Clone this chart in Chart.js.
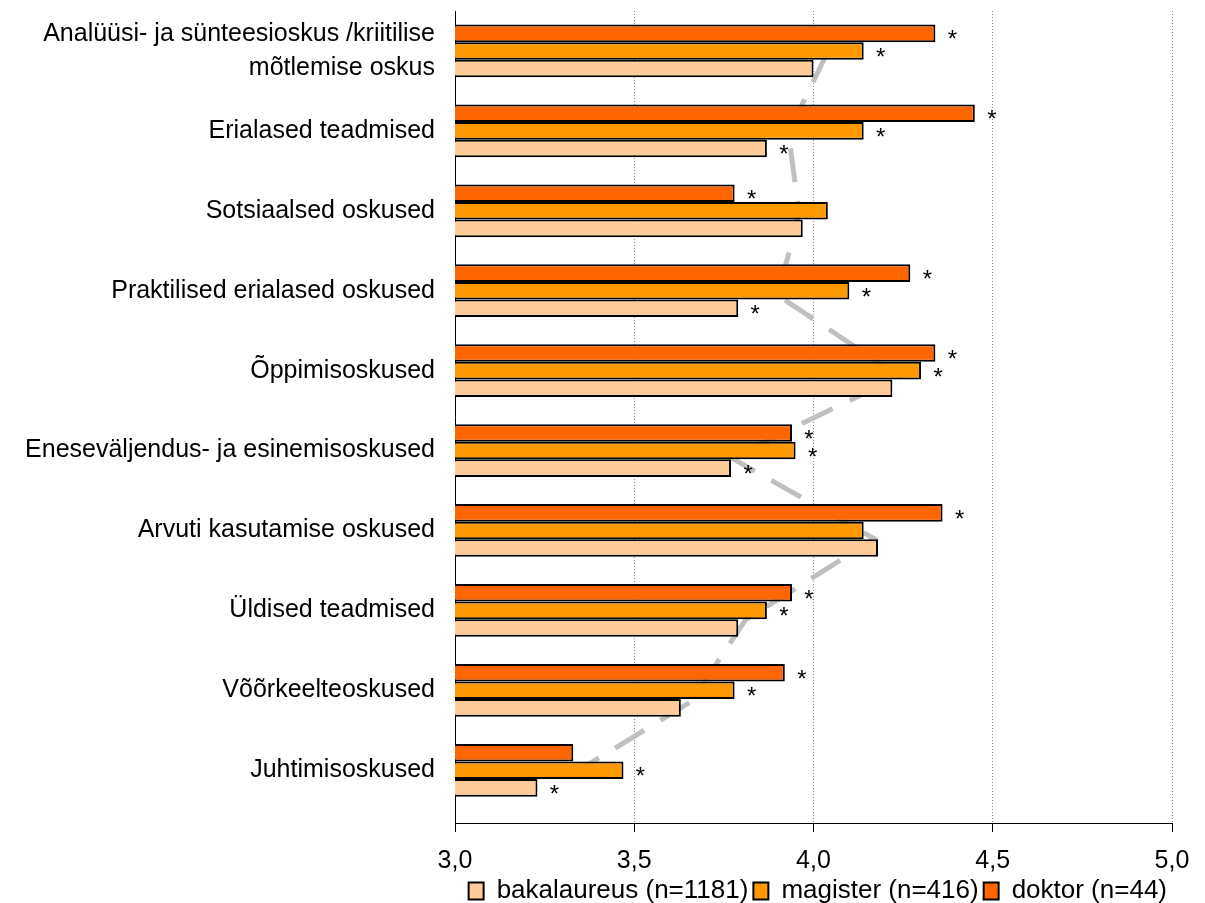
<!DOCTYPE html>
<html>
<head>
<meta charset="utf-8">
<script src="https://cdn.jsdelivr.net/npm/chart.js@4.4.1/dist/chart.umd.min.js"></script>
<style>
    html, body { margin: 0; padding: 0; background: #fff; }
    #wrap { width: 1205px; height: 903px; }
</style>
</head>
<body>
<div id="wrap"><canvas id="skillsChart" width="1205" height="903"></canvas></div>
<script>
const categories = [
    ['Analüüsi- ja sünteesioskus /kriitilise', 'mõtlemise oskus'],
    'Erialased teadmised',
    'Sotsiaalsed oskused',
    'Praktilised erialased oskused',
    'Õppimisoskused',
    'Eneseväljendus- ja esinemisoskused',
    'Arvuti kasutamise oskused',
    'Üldised teadmised',
    'Võõrkeelteoskused',
    'Juhtimisoskused'
];
const seriesLabels = ['bakalaureus (n=1181)', 'magister (n=416)', 'doktor (n=44)'];
const bakalaureus = [4.00, 3.87, 3.97, 3.79, 4.22, 3.77, 4.18, 3.79, 3.63, 3.23];
const magister = [4.14, 4.14, 4.04, 4.10, 4.30, 3.95, 4.14, 3.87, 3.78, 3.47];
const doktor = [4.34, 4.45, 3.78, 4.27, 4.34, 3.94, 4.36, 3.94, 3.92, 3.33];
const dashedLine = [4.04, 3.93, 3.96, 3.90, 4.24, 3.77, 4.17, 3.81, 3.66, 3.29];
// * marks beside the bars
const sigBakalaureus = [false, true, false, true, false, true, false, false, false, true];
const sigMagister = [true, true, false, true, true, true, false, true, true, true];
const sigDoktor = [true, true, true, true, true, true, true, true, true, false];
const xTicks = [3.0, 3.5, 4.0, 4.5, 5.0];

Chart.defaults.font.family = '"Liberation Sans", Arial, sans-serif';
Chart.defaults.color = '#000';

// the three bars of a category fill 66% of its height; each series sits on its own
// copy of the index axis, shifted by one bar
const groupShare = 0.66;
const barShare = groupShare / 3;
const indexRange = [-0.5, 9.66];

const toPoints = values => values.map((value, index) => ({ x: value, y: index }));
const categoryTicks = scale => {
    scale.ticks = categories.map((label, index) => ({ value: index }));
};

const asteriskPlugin = {
    id: 'asterisks',
    afterDatasetsDraw(chart) {
        const ctx = chart.ctx;
        ctx.save();
        ctx.font = '24px "Liberation Sans", Arial, sans-serif';
        ctx.fillStyle = '#000';
        ctx.textAlign = 'center';
        ctx.textBaseline = 'alphabetic';
        chart.data.datasets.forEach((dataset, datasetIndex) => {
            if (!dataset.significant) {
                return;
            }
            chart.getDatasetMeta(datasetIndex).data.forEach((bar, index) => {
                if (dataset.significant[index]) {
                    ctx.fillText('*', bar.x + 17, bar.y + 14);
                }
            });
        });
        ctx.restore();
    }
};

function barDataset(label, values, significant, color, axisId, order) {
    return {
        label,
        data: toPoints(values),
        significant,
        yAxisID: axisId,
        xAxisID: 'x',
        grouped: false,
        backgroundColor: color,
        borderColor: '#000',
        borderWidth: 2,
        borderSkipped: false,
        categoryPercentage: barShare,
        barPercentage: 1,
        order
    };
}

function shiftedIndexAxis(shift) {
    return {
        type: 'linear',
        display: false,
        reverse: true,
        offset: false,
        min: indexRange[0] + shift,
        max: indexRange[1] + shift,
        afterBuildTicks: categoryTicks
    };
}

new Chart(document.getElementById('skillsChart'), {
    type: 'bar',
    data: {
        labels: categories,
        datasets: [
            barDataset(seriesLabels[0], bakalaureus, sigBakalaureus, '#FFCC99', 'yBak', 3),
            barDataset(seriesLabels[1], magister, sigMagister, '#FF9900', 'y', 2),
            barDataset(seriesLabels[2], doktor, sigDoktor, '#FF6600', 'yDok', 1),
            {
                type: 'line',
                label: 'keskmine',
                data: dashedLine,
                indexAxis: 'y',
                xAxisID: 'x',
                yAxisID: 'y2',
                borderColor: '#C0C0C0',
                borderWidth: 5,
                borderDash: [34, 19],
                pointRadius: 0,
                fill: false,
                tension: 0,
                order: 4
            }
        ]
    },
    options: {
        indexAxis: 'y',
        responsive: false,
        animation: false,
        layout: { padding: { top: 11, right: 33, bottom: -11, left: 0 } },
        plugins: {
            legend: {
                position: 'bottom',
                align: 'end',
                reverse: true,
                labels: {
                    filter: item => item.datasetIndex < 3,
                    font: { size: 26 },
                    color: '#000',
                    boxWidth: 15,
                    boxHeight: 17,
                    padding: 5
                }
            },
            tooltip: { enabled: false }
        },
        scales: {
            x: {
                type: 'linear',
                position: 'bottom',
                min: xTicks[0],
                max: xTicks[xTicks.length - 1],
                afterBuildTicks: scale => {
                    scale.ticks = xTicks.map(value => ({ value }));
                },
                ticks: {
                    callback: value => value.toFixed(1).replace('.', ','),
                    font: { size: 25, lineHeight: 0.8 },
                    color: '#000',
                    padding: 2
                },
                grid: {
                    color: '#8c8c8c',
                    tickColor: '#000',
                    tickLength: 26,
                    tickBorderDash: [8, 40],
                    lineWidth: 1
                },
                border: { color: '#000', width: 1, dash: [1, 2] }
            },
            y: {
                type: 'linear',
                position: 'left',
                reverse: true,
                offset: false,
                min: indexRange[0],
                max: indexRange[1],
                afterBuildTicks: categoryTicks,
                afterFit: scale => {
                    scale.width = 455;
                    scale.paddingTop = 0;
                    scale.paddingBottom = 0;
                },
                ticks: {
                    autoSkip: false,
                    callback: value => categories[value],
                    font: { size: 25, lineHeight: 1.36 },
                    color: '#000',
                    padding: 20
                },
                grid: { display: false, drawTicks: false, offset: false },
                border: { color: '#000', width: 1 }
            },
            yDok: shiftedIndexAxis(barShare),
            yBak: shiftedIndexAxis(-barShare),
            y2: {
                type: 'category',
                display: false,
                offset: true
            }
        }
    },
    plugins: [asteriskPlugin]
});
</script>
</body>
</html>
